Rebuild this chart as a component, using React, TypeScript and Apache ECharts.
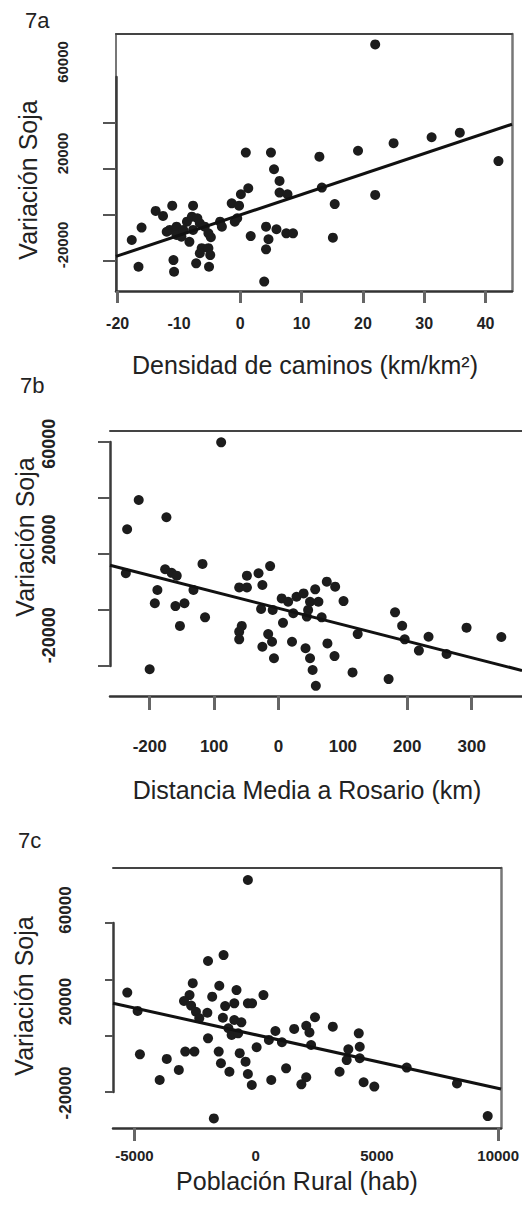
import React, { useEffect, useRef } from 'react';
import * as echarts from 'echarts';

const FONT = '"Liberation Sans", Arial, Helvetica, sans-serif';

// ---------- Panel 7a : Densidad de caminos vs Variación Soja ----------
const aDensity = [22.0, 0.9, 5.0, 12.9, 19.2, 25.0, 31.2, 35.8, 42.1, 5.5, 6.4, 6.4, 7.7, 1.3, 0.1, 13.3, 22.0, 15.4, -1.4, -0.2, -0.5, -0.9, -3.3, -3.0, 4.2, 5.9, 7.5, 8.6, 1.7, 4.6, 4.2, 15.1, 3.9, -13.8, -12.6, -11.1, -7.7, -16.1, -17.7, -16.6, -10.9, -10.8, -7.2, -5.1, -6.3, -5.2, -6.6, -4.9, -8.3, -4.8, -11.5, -10.4, -10.4, -9.6, -8.7, -7.9, -7.7, -6.6, -5.8, -5.2, -9.3, -7.0, -12.0];
const aSoy = [67700, 20400, 20400, 18600, 21200, 24500, 27100, 29100, 16700, 13100, 8000, 2900, 2200, 4800, 2200, 5100, 1900, -2100, -1800, -2800, -8300, -9800, -9800, -12000, -12000, -13100, -14900, -14900, -16100, -17500, -21900, -16800, -36000, -5100, -7300, -2800, -2800, -12400, -17800, -29500, -26600, -31700, -28000, -29500, -21400, -21400, -23600, -24400, -18600, -16600, -13400, -12000, -15600, -16400, -9800, -7600, -13400, -10500, -12000, -14900, -13400, -8300, -14200];
const aFit = { intercept: -6860, slope: 894.6 };
const aXTickValues = [-20, 0, 10, 20, 30, 40];
const aXLabelValues = [-20, -10, 0, 10, 20, 30, 40];
const aXLabels = ['-20', '-10', '0', '10', '20', '30', '40'];
const aYLabelValues = [-20000, 20000, 60000];
const aYLabels = ['-20000', '20000', '60000'];
const aYTickValues = [-20000, 0, 20000, 40000];

// ---------- Panel 7b : Distancia Media a Rosario vs Variación Soja ----------
const bDistance = [-89, -217, -235, -174, -237, -176, -166, -158, -118, -188, -192, -160, -146, -132, -153, -114, -200, -49, -31, -13, -61, -49, -25, 5, 15, 28, 39, 57, 75, 88, 101, 49, 62, 46, 44, 67, 23, -27, -9, 7, -57, -61, -61, -16, -10, -25, -7, 21, 42, 49, 53, 58, 76, 87, 115, 123, 171, 181, 192, 196, 218, 233, 261, 292, 346];
const bSoy = [60600, 36500, 24300, 29300, 5900, 7600, 6100, 4900, 9800, -1100, -6600, -7800, -6600, -1100, -16100, -12500, -34200, 4900, 5900, 8900, 0, 0, 1000, -4600, -6000, -3900, -2500, -800, 2400, 300, -5700, -6000, -6000, -9400, -12200, -12500, -10800, -9000, -9400, -14800, -16100, -18500, -21700, -19500, -22700, -24800, -29600, -22700, -25400, -29600, -34500, -41100, -23400, -28700, -35500, -19500, -38300, -10400, -16000, -21700, -26400, -20600, -27800, -16800, -20700];
const bFit = { intercept: -8730, slope: -68.7 };
const bXTickValues = [-200, -100, 0, 200, 300];
const bXLabelValues = [-200, -100, 0, 100, 200, 300];
const bXLabels = ['-200', '100', '0', '100', '200', '300'];
const bYLabelValues = [-20000, 20000, 60000];
const bYLabels = ['-20000', '20000', '60000'];
const bYTickValues = [-20000, 0, 20000, 40000, 60000];

// ---------- Panel 7c : Población Rural vs Variación Soja ----------
const cPopulation = [-321, -1324, -1965, -5295, -4869, -2595, -2727, -2956, -2663, -2463, -1993, -2326, -1793, -1500, -790, -1259, -882, -321, -148, 321, -1352, -882, -590, -1123, -991, -722, -1965, -4773, -3666, -2904, -2527, -1524, -658, -417, -1432, 40, 545, 814, 1083, 1588, 2086, 2218, 2447, 2286, 3181, 1255, 642, 2086, 1885, -321, -160, -1083, -3169, -3959, -1725, 3461, 3822, 3754, 4252, 4292, 4292, 4452, 4893, 6229, 8303, 9570];
const cSoy = [73100, 40300, 37700, 23900, 15900, 28000, 22800, 20200, 18200, 15500, 15100, 12700, 22100, 26900, 25000, 18000, 19200, 19200, 19200, 22800, 12900, 11900, 10900, 8300, 5400, 6100, 3900, -3100, -5100, -1900, -1900, -1900, -2600, -6300, -7000, 0, 3200, 7100, 2200, 8000, 9400, 6500, 13100, 1000, 9000, -9200, -14300, -13100, -16200, -11700, -16500, -10700, -9900, -14300, -31100, -10700, -900, -5600, 6100, 200, -4800, -15300, -17200, -8900, -15800, -30100];
const cFit = { intercept: 5452, slope: -2.343 };
const cXTickValues = [-5000, 10000];
const cXLabelValues = [-5000, 0, 5000, 10000];
const cXLabels = ['-5000', '0', '5000', '10000'];
const cYLabelValues = [-20000, 20000, 60000];
const cYLabels = ['-20000', '20000', '60000'];
const cYTickValues = [0, 20000, 40000, 60000];

const Y_TITLE = 'Variación Soja';

const PANELS = [
  {
    tag: '7a', xTitle: 'Densidad de caminos (km/km²)',
    xs: aDensity, ys: aSoy, fit: aFit,
    xTickValues: aXTickValues, xLabelValues: aXLabelValues, xLabels: aXLabels,
    yLabelValues: aYLabelValues, yLabels: aYLabels, yTickValues: aYTickValues,
    box: { left: 116, top: 34, width: 396, height: 257 },
    tickBox: { left: 116, top: 77, width: 396, height: 214 },
    xMin: -20.27, xMax: 44.31, yMin: -40110, yMax: 72240,
    tickMin: -33040, tickMax: 60000,
    xLabelSize: 16, xLabelMargin: 24, xTickLen: 12,
    yLabelSize: 15, yLabelMargin: 46, yTickLen: 13,
    leftBorder: true, rightBorder: true,
    tagPos: [25, 20], yTitlePos: [28, 180], xTitlePos: [305, 365],
  },
  {
    tag: '7b', xTitle: 'Distancia Media a Rosario (km)',
    xs: bDistance, ys: bSoy, fit: bFit,
    xTickValues: bXTickValues, xLabelValues: bXLabelValues, xLabels: bXLabels,
    yLabelValues: bYLabelValues, yLabels: bYLabels, yTickValues: bYTickValues,
    box: { left: 110, top: 431, width: 412, height: 265 },
    tickBox: { left: 110, top: 442, width: 412, height: 224 },
    xMin: -261.6, xMax: 378.1, yMin: -45360, yMax: 65330,
    tickMin: -20000, tickMax: 60000,
    xLabelSize: 17, xLabelMargin: 42, xTickLen: 14,
    yLabelSize: 18, yLabelMargin: 52, yTickLen: 12,
    leftBorder: false, rightBorder: false,
    tagPos: [20, 385], yTitlePos: [25, 537], xTitlePos: [307, 790],
  },
  {
    tag: '7c', xTitle: 'Población Rural (hab)',
    xs: cPopulation, ys: cSoy, fit: cFit,
    xTickValues: cXTickValues, xLabelValues: cXLabelValues, xLabels: cXLabels,
    yLabelValues: cYLabelValues, yLabels: cYLabels, yTickValues: cYTickValues,
    box: { left: 113, top: 868, width: 399, height: 260 },
    tickBox: { left: 113, top: 923, width: 399, height: 169 },
    xMin: -5884, xMax: 10120, yMin: -35300, yMax: 78360,
    tickMin: 0, tickMax: 60000,
    xLabelSize: 15, xLabelMargin: 20, xTickLen: 13,
    yLabelSize: 17, yLabelMargin: 39, yTickLen: 8,
    leftBorder: false, rightBorder: true,
    tagPos: [18, 840], yTitlePos: [24, 996], xTitlePos: [297, 1181],
  },
];

function labelFor(v: number, values: number[], labels: string[]) {
  const i = values.findIndex((x) => Math.abs(x - v) < 1e-6);
  return i >= 0 ? labels[i] : '';
}

function buildOption() {
  const grid: any[] = [];
  const xAxis: any[] = [];
  const yAxis: any[] = [];
  const series: any[] = [];
  const graphic: any[] = [];
  const noSplit = { show: false };

  PANELS.forEach((p) => {
    const g = grid.length;
    grid.push({ ...p.box });
    grid.push({ ...p.tickBox });

    const xi = xAxis.length;
    xAxis.push({
      type: 'value', gridIndex: g, min: p.xMin, max: p.xMax, position: 'bottom',
      axisLine: { show: true, onZero: false, lineStyle: { color: '#333', width: 2.5 } },
      axisTick: { show: true, customValues: p.xTickValues, length: p.xTickLen, lineStyle: { color: '#666', width: 3 } },
      axisLabel: {
        customValues: p.xLabelValues,
        formatter: (v: number) => labelFor(v, p.xLabelValues, p.xLabels),
        fontSize: p.xLabelSize, fontWeight: 'bold', color: '#222', margin: p.xLabelMargin, fontFamily: FONT,
      },
      splitLine: noSplit,
    });
    xAxis.push({
      type: 'value', gridIndex: g, min: p.xMin, max: p.xMax, position: 'top',
      axisLine: { show: true, onZero: false, lineStyle: { color: '#444', width: 2 } },
      axisTick: { show: false }, axisLabel: { show: false }, splitLine: noSplit,
    });
    xAxis.push({ type: 'value', gridIndex: g + 1, min: 0, max: 1, show: false });

    const yi = yAxis.length;
    yAxis.push({
      type: 'value', gridIndex: g, min: p.yMin, max: p.yMax, position: 'left',
      axisLine: { show: p.leftBorder, onZero: false, lineStyle: { color: '#777', width: 2 } },
      axisTick: { show: false },
      axisLabel: {
        customValues: p.yLabelValues,
        formatter: (v: number) => labelFor(v, p.yLabelValues, p.yLabels),
        rotate: 90, fontSize: p.yLabelSize, fontWeight: 'bold', color: '#222', margin: p.yLabelMargin, fontFamily: FONT,
      },
      splitLine: noSplit,
    });
    yAxis.push({
      type: 'value', gridIndex: g, min: p.yMin, max: p.yMax, position: 'right',
      axisLine: { show: p.rightBorder, onZero: false, lineStyle: { color: '#777', width: 2.5 } },
      axisTick: { show: false }, axisLabel: { show: false }, splitLine: noSplit,
    });
    yAxis.push({
      type: 'value', gridIndex: g + 1, min: p.tickMin, max: p.tickMax, position: 'left',
      axisLine: { show: true, onZero: false, lineStyle: { color: '#3a3a3a', width: 2.5 } },
      axisTick: { show: true, customValues: p.yTickValues, length: p.yTickLen, lineStyle: { color: '#555', width: 2 } },
      axisLabel: { show: false }, splitLine: noSplit,
    });

    series.push({
      type: 'scatter', xAxisIndex: xi, yAxisIndex: yi,
      data: p.xs.map((x, i) => [x, p.ys[i]]),
      symbolSize: 10, itemStyle: { color: '#1c1c1c', opacity: 1 }, silent: true,
    });
    const f = (x: number) => p.fit.intercept + p.fit.slope * x;
    series.push({
      type: 'line', xAxisIndex: xi, yAxisIndex: yi,
      data: [[p.xMin, f(p.xMin)], [p.xMax, f(p.xMax)]],
      symbol: 'none', lineStyle: { color: '#111', width: 3 }, silent: true, z: 3,
    });

    graphic.push({
      type: 'text', x: p.tagPos[0], y: p.tagPos[1],
      style: { text: p.tag, fontSize: 22, fontFamily: FONT, fill: '#222', align: 'left', verticalAlign: 'middle' },
    });
    graphic.push({
      type: 'text', x: p.yTitlePos[0], y: p.yTitlePos[1], rotation: Math.PI / 2,
      style: { text: Y_TITLE, fontSize: 25, fontFamily: FONT, fill: '#222', align: 'center', verticalAlign: 'middle' },
    });
    graphic.push({
      type: 'text', x: p.xTitlePos[0], y: p.xTitlePos[1],
      style: { text: p.xTitle, fontSize: 25, fontFamily: FONT, fill: '#222', align: 'center', verticalAlign: 'middle' },
    });
  });

  return {
    animation: false,
    backgroundColor: '#ffffff',
    grid, xAxis, yAxis, series, graphic,
  };
}

export default function App() {
  const ref = useRef<HTMLDivElement>(null);
  useEffect(() => {
    if (!ref.current) return;
    const chart = echarts.init(ref.current, undefined, { renderer: 'svg' });
    chart.setOption(buildOption() as any);
    return () => chart.dispose();
  }, []);
  return (
    <div
      ref={ref}
      style={{ position: 'absolute', left: 0, top: 0, width: 522, height: 1209, background: '#fff' }}
    />
  );
}
